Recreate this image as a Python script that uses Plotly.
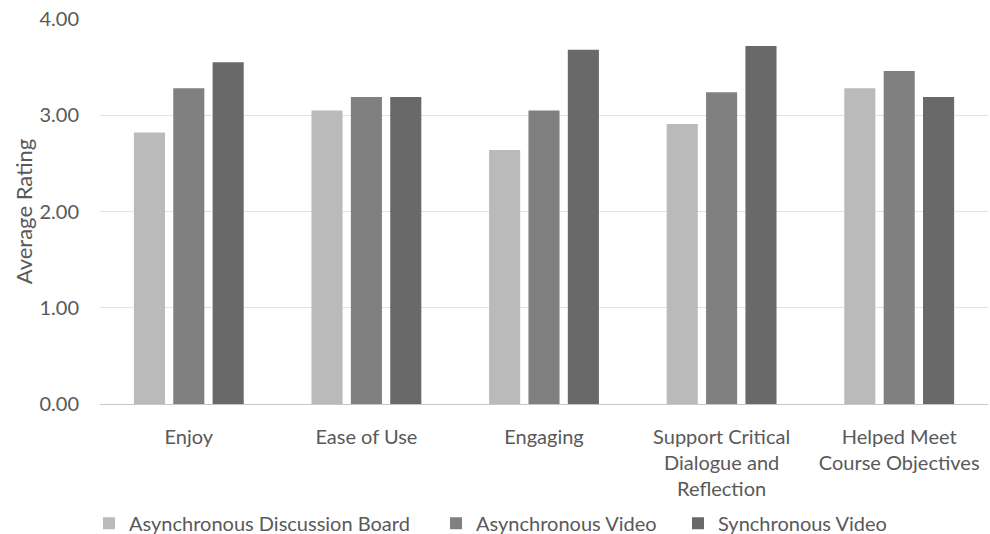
import plotly.graph_objects as go

categories = ["Enjoy", "Ease of Use", "Engaging",
              "Support Critical<br>Dialogue and<br>Reflection",
              "Helped Meet<br>Course Objectives"]
series_names = ["Asynchronous Discussion Board", "Asynchronous Video", "Synchronous Video"]
async_board = [2.82, 3.05, 2.64, 2.91, 3.28]
async_video = [3.28, 3.19, 3.05, 3.24, 3.46]
sync_video = [3.55, 3.19, 3.68, 3.72, 3.19]
colors = ["#bababa", "#808080", "#696969"]
y_ticks = [0, 1, 2, 3, 4]
y_tick_labels = ["0.00", "1.00", "2.00", "3.00", "4.00"]

FONT = "Lato"
TXT = "#595959"

legend_ids = ["legend", "legend2", "legend3"]
legend_x = [-0.0124, 0.3784, 0.6509]

fig = go.Figure()
for name, vals, col, lid in zip(series_names, [async_board, async_video, sync_video], colors, legend_ids):
    fig.add_trace(go.Bar(name=name, x=categories, y=vals, legend=lid,
                         marker=dict(color=col, line=dict(width=0))))

legend_common = dict(orientation="h", xref="paper", xanchor="left",
                     y=-0.31, yanchor="middle", itemwidth=30,
                     bgcolor="rgba(0,0,0,0)",
                     font=dict(family=FONT, size=20, color=TXT))

fig.update_layout(
    width=990, height=534,
    margin=dict(l=100, r=2, t=18.5, b=129.5, autoexpand=False),
    paper_bgcolor="white", plot_bgcolor="white",
    barmode="group", bargap=0.335, bargroupgap=0.21,
    font=dict(family=FONT, size=20, color=TXT),
    showlegend=True,
    legend=dict(x=legend_x[0], **legend_common),
    legend2=dict(x=legend_x[1], **legend_common),
    legend3=dict(x=legend_x[2], **legend_common),
)
fig.update_yaxes(range=[0, 4], tickvals=y_ticks, ticktext=y_tick_labels,
                 showgrid=True, gridcolor="#e3e3e3", gridwidth=1,
                 zeroline=False, showline=False,
                 tickfont=dict(family=FONT, size=20, color=TXT),
                 ticklabelstandoff=20,
                 title=dict(text="Average Rating", font=dict(family=FONT, size=22, color=TXT), standoff=0))
fig.update_xaxes(showline=True, linecolor="#c8c8c8", linewidth=1,
                 tickfont=dict(family=FONT, size=20, color=TXT),
                 ticklabelstandoff=15, showgrid=False)

fig.write_html("out.html")
